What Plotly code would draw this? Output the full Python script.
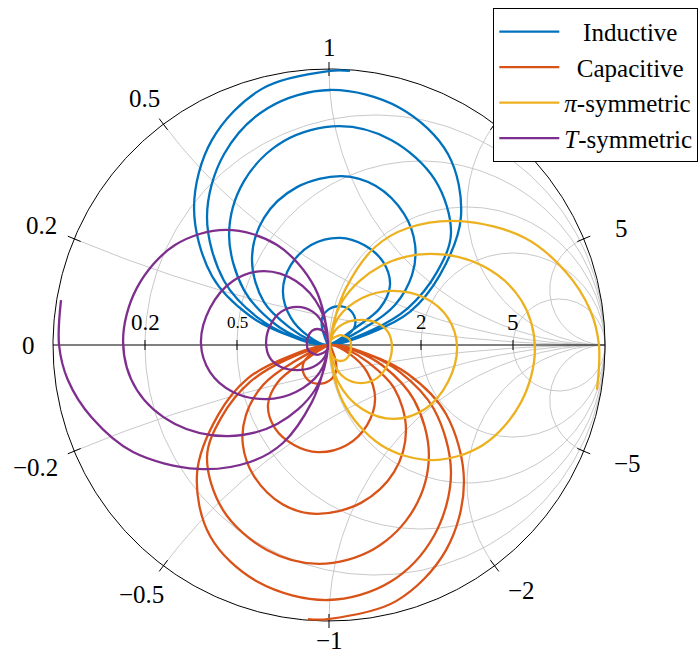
import numpy as np
import plotly.graph_objects as go

# Reflection-coefficient readings (real / imaginary parts) along each sweep
ind_re = [0.076, 0.004, -0.243, -0.424, -0.489, -0.424, -0.286, -0.141, -0.007, 0.149,
          0.293, 0.402, 0.478, 0.431, 0.257, 0.004, -0.221, -0.380, -0.442, -0.380,
          -0.257, -0.130, -0.007, 0.156, 0.286, 0.391, 0.442, 0.384, 0.225, 0.036,
          -0.163, -0.308, -0.362, -0.308, -0.196, -0.098, -0.007, 0.134, 0.239, 0.301,
          0.312, 0.272, 0.170, 0.047, -0.116, -0.236, -0.279, -0.236, -0.141, -0.069,
          -0.007, 0.105, 0.185, 0.221, 0.196, 0.127, 0.040, -0.065, -0.138, -0.167,
          -0.138, -0.076, -0.007, 0.058, 0.091, 0.094, 0.072, 0.040, 0.000, -0.025,
          -0.025, -0.014, -0.004]
ind_im = [0.993, 0.993, 0.928, 0.743, 0.496, 0.250, 0.105, 0.033, 0.0, 0.043,
          0.120, 0.254, 0.464, 0.692, 0.859, 0.924, 0.859, 0.692, 0.464, 0.232,
          0.098, 0.029, 0.0, 0.054, 0.134, 0.264, 0.406, 0.598, 0.743, 0.793,
          0.739, 0.594, 0.399, 0.199, 0.076, 0.022, 0.0, 0.065, 0.145, 0.254,
          0.362, 0.475, 0.576, 0.612, 0.572, 0.460, 0.308, 0.156, 0.062, 0.018,
          0.0, 0.069, 0.134, 0.217, 0.301, 0.362, 0.388, 0.362, 0.290, 0.196,
          0.098, 0.033, 0.0, 0.029, 0.062, 0.098, 0.130, 0.141, 0.130, 0.098,
          0.062, 0.025, 0.0]

cap_re = [-0.076, -0.004, 0.243, 0.424, 0.489, 0.424, 0.286, 0.141, 0.007, -0.149,
          -0.293, -0.402, -0.478, -0.431, -0.257, -0.004, 0.221, 0.380, 0.442, 0.380,
          0.257, 0.130, 0.007, -0.156, -0.286, -0.391, -0.442, -0.384, -0.225, -0.036,
          0.163, 0.308, 0.362, 0.308, 0.196, 0.098, 0.007, -0.134, -0.239, -0.301,
          -0.312, -0.272, -0.170, -0.047, 0.116, 0.236, 0.279, 0.236, 0.141, 0.069,
          0.007, -0.105, -0.185, -0.221, -0.196, -0.127, -0.040, 0.065, 0.138, 0.167,
          0.138, 0.076, 0.007, -0.058, -0.091, -0.094, -0.072, -0.040, 0.000, 0.025,
          0.025, 0.014, 0.004]
cap_im = [-0.993, -0.993, -0.928, -0.743, -0.496, -0.250, -0.105, -0.033, 0.0, -0.043,
          -0.120, -0.254, -0.464, -0.692, -0.859, -0.924, -0.859, -0.692, -0.464, -0.232,
          -0.098, -0.029, 0.0, -0.054, -0.134, -0.264, -0.406, -0.598, -0.743, -0.793,
          -0.739, -0.594, -0.399, -0.199, -0.076, -0.022, 0.0, -0.065, -0.145, -0.254,
          -0.362, -0.475, -0.576, -0.612, -0.572, -0.460, -0.308, -0.156, -0.062, -0.018,
          0.0, -0.069, -0.134, -0.217, -0.301, -0.362, -0.388, -0.362, -0.290, -0.196,
          -0.098, -0.033, 0.0, -0.029, -0.062, -0.098, -0.130, -0.141, -0.130, -0.098,
          -0.062, -0.025, 0.0]

pi_re = [0.971, 0.978, 0.946, 0.859, 0.710, 0.475, 0.286, 0.167, 0.062, 0.022,
         0.004, 0.051, 0.188, 0.373, 0.558, 0.696, 0.746, 0.696, 0.558, 0.366,
         0.188, 0.051, 0.004, 0.033, 0.120, 0.236, 0.348, 0.431, 0.464, 0.431,
         0.348, 0.228, 0.120, 0.033, 0.004, 0.018, 0.058, 0.116, 0.174, 0.214,
         0.228, 0.214, 0.174, 0.116, 0.058, 0.018, 0.004, 0.007, 0.022, 0.043,
         0.062, 0.076, 0.080, 0.076, 0.062, 0.043, 0.022, 0.007, 0.004]
pi_im = [-0.163, 0.0, 0.127, 0.264, 0.388, 0.449, 0.424, 0.355, 0.207, 0.098,
         0.0, -0.207, -0.362, -0.417, -0.362, -0.207, -0.011, 0.163, 0.286, 0.330,
         0.286, 0.163, 0.0, -0.134, -0.232, -0.268, -0.232, -0.134, -0.007, 0.098,
         0.170, 0.196, 0.170, 0.098, 0.0, -0.069, -0.120, -0.138, -0.120, -0.069,
         -0.007, 0.047, 0.080, 0.091, 0.080, 0.047, 0.0, -0.029, -0.051, -0.058,
         -0.051, -0.029, -0.004, 0.018, 0.029, 0.036, 0.029, 0.018, 0.0]

t_re = [-0.971, -0.978, -0.946, -0.859, -0.710, -0.475, -0.286, -0.167, -0.062, -0.022,
        -0.004, -0.051, -0.188, -0.373, -0.558, -0.696, -0.746, -0.696, -0.558, -0.366,
        -0.188, -0.051, -0.004, -0.033, -0.120, -0.236, -0.348, -0.431, -0.464, -0.431,
        -0.348, -0.228, -0.120, -0.033, -0.004, -0.018, -0.058, -0.116, -0.174, -0.214,
        -0.228, -0.214, -0.174, -0.116, -0.058, -0.018, -0.004, -0.007, -0.022, -0.043,
        -0.062, -0.076, -0.080, -0.076, -0.062, -0.043, -0.022, -0.007, -0.004]
t_im = [0.163, 0.0, -0.127, -0.264, -0.388, -0.449, -0.424, -0.355, -0.207, -0.098,
        0.0, 0.207, 0.362, 0.417, 0.362, 0.207, 0.011, -0.163, -0.286, -0.330,
        -0.286, -0.163, 0.0, 0.134, 0.232, 0.268, 0.232, 0.134, 0.007, -0.098,
        -0.170, -0.196, -0.170, -0.098, 0.0, 0.069, 0.120, 0.138, 0.120, 0.069,
        0.007, -0.047, -0.080, -0.091, -0.080, -0.047, 0.0, 0.029, 0.051, 0.058,
        0.051, 0.029, 0.004, -0.018, -0.029, -0.036, -0.029, -0.018, 0.0]

series_names = ["\u00a0\u00a0\u00a0Inductive", "\u00a0\u00a0Capacitive",
                "<i>\u03c0</i>-symmetric", "<i>T</i>-symmetric"]
series_colors = ["#0072BD", "#D95319", "#EDB120", "#7E2F8E"]

# Smith-chart grid values
resistance_ticks = [0.2, 0.5, 1, 2, 5]
reactance_ticks = [0.2, 0.5, 1, 2, 5]
real_labels = [0.2, 0.5, 2, 5]
real_label_sizes = [23, 17, 21, 23]
imag_labels = [1, 0.5, 0.2, 0, -0.2, -0.5, -1, -2, -5, 5]

# page geometry: Gamma-plane unit circle centred at (CX, CY) px with radius RAD px
W, H = 699, 656
CX, CY, RAD = 329, 345, 276
font_family = "Liberation Serif, DejaVu Serif, serif"
LABEL_FS = 25
GRID_COLOR = "#c2c2c2"


def fmt(v):
    s = f"{abs(v):g}"
    return ("\u2212" + s) if v < 0 else s


def text_width(s, fs):
    w = 0.0
    for ch in s:
        if ch.isdigit():
            w += 0.5
        elif ch == ".":
            w += 0.25
        else:
            w += 0.56
    return w * fs


def gamma(z):
    return (z - 1) / (z + 1)


fig = go.Figure()

# --- grid: constant-resistance circles and constant-reactance arcs ---
gx, gy = [], []
th = np.linspace(0, 2 * np.pi, 361)
for r in resistance_ticks:
    c, rad = r / (1 + r), 1 / (1 + r)
    gx += list(c + rad * np.cos(th)) + [None]
    gy += list(rad * np.sin(th)) + [None]
rr = np.concatenate([[0.0], np.geomspace(1e-3, 1e4, 600)])
for x in reactance_ticks:
    for s in (1, -1):
        g = gamma(rr + 1j * s * x)
        gx += list(g.real) + [None]
        gy += list(g.imag) + [None]
fig.add_trace(go.Scatter(x=gx, y=gy, mode="lines", hoverinfo="skip", showlegend=False,
                         line=dict(color=GRID_COLOR, width=0.9)))

# --- outer rim, real axis and tick marks ---
th2 = np.linspace(0, 2 * np.pi, 721)
fig.add_trace(go.Scatter(x=np.cos(th2), y=np.sin(th2), mode="lines", hoverinfo="skip",
                         showlegend=False, line=dict(color="black", width=1)))
fig.add_trace(go.Scatter(x=[-1, 1], y=[0, 0], mode="lines", hoverinfo="skip",
                         showlegend=False, line=dict(color="black", width=1)))
tx, ty = [], []
dt = 7 / RAD
for x in reactance_ticks:
    for s in (1, -1):
        g = gamma(1j * s * x)
        tx += [g.real * (1 - dt), g.real * (1 + dt), None]
        ty += [g.imag * (1 - dt), g.imag * (1 + dt), None]
for r in resistance_ticks:
    g = gamma(r)
    tx += [g, g, None]
    ty += [-5 / RAD, 5 / RAD, None]
fig.add_trace(go.Scatter(x=tx, y=ty, mode="lines", hoverinfo="skip", showlegend=False,
                         line=dict(color="black", width=1)))

# --- measured sweeps ---
for (re, im), name, col in zip(
        [(ind_re, ind_im), (cap_re, cap_im), (pi_re, pi_im), (t_re, t_im)],
        series_names, series_colors):
    fig.add_trace(go.Scatter(
        x=re, y=im, mode="lines", name=name,
        line=dict(color=col, width=2.3, shape="spline", smoothing=1.0),
    ))

annotations = []
# reactance labels around the rim
y_floor = -(H - 16 - CY) / RAD
for x in imag_labels:
    g = gamma(1j * x)
    ang = np.angle(g)
    ux, uy = np.cos(ang), np.sin(ang)
    txt = fmt(x)
    w = text_width(txt, LABEL_FS)
    h = 0.66 * LABEL_FS
    gap = 13 + 5 * abs(ux)
    d = (RAD + gap + abs(ux) * w / 2 + abs(uy) * h / 2) / RAD
    shift = 14 * max(ux, 0.0) / RAD   # right-hand labels sit a little further out
    annotations.append(dict(
        x=d * ux + shift, y=max(d * uy, y_floor), xref="x", yref="y",
        text=txt, showarrow=False, xanchor="center", yanchor="middle",
        font=dict(family=font_family, size=LABEL_FS, color="black"),
    ))
# resistance labels just above the real axis
for r, fs in zip(real_labels, real_label_sizes):
    annotations.append(dict(
        x=gamma(r), y=23 / RAD, xref="x", yref="y",
        text=fmt(r), showarrow=False, xanchor="center", yanchor="middle",
        font=dict(family=font_family, size=fs, color="black"),
    ))

fig.update_layout(
    width=W, height=H,
    margin=dict(l=0, r=0, t=0, b=0),
    paper_bgcolor="white", plot_bgcolor="white",
    font=dict(family=font_family, size=20, color="black"),
    xaxis=dict(visible=False, range=[-CX / RAD, (W - CX) / RAD]),
    yaxis=dict(visible=False, range=[-(H - CY) / RAD, CY / RAD]),
    annotations=annotations,
    legend=dict(
        x=0.999, y=0.988, xanchor="right", yanchor="top",
        bgcolor="white", bordercolor="black", borderwidth=1,
        font=dict(family=font_family, size=25),
        itemwidth=60,
    ),
)

fig.write_html("out.html")
